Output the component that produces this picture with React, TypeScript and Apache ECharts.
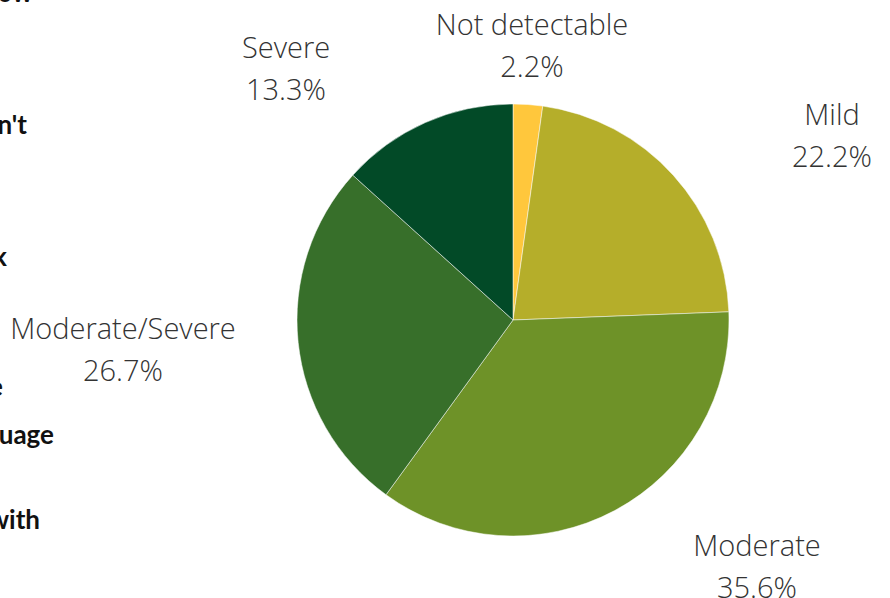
import React, { useEffect, useRef } from "react";
import * as echarts from "echarts";

const categories = ["Not detectable", "Mild", "Moderate", "Moderate/Severe", "Severe"];
const percents = [2.2, 22.2, 35.6, 26.7, 13.3];
const colors = ["#FFC73C", "#B5AE2A", "#6E9228", "#376F2A", "#024A27"];

// label anchor points (label layout only)
const labelPos: [number, number][] = [
  [532, 44],
  [832, 134],
  [757, 565],
  [123, 348],
  [286, 67],
];

// clipped side text fragments from neighbouring panel
const sideTexts = ["ow", "n't", "k", "e", "uage", "with"];
const sidePos: [number, number][] = [
  [33, -8],
  [27, 124],
  [7, 256],
  [3, 386],
  [54, 434],
  [40, 519],
];

export default function App() {
  const ref = useRef<HTMLDivElement>(null);
  useEffect(() => {
    document.body.style.margin = "0";
    const chart = echarts.init(ref.current!, null, { renderer: "svg" });
    chart.setOption({
      animation: false,
      backgroundColor: "#ffffff",
      graphic: sideTexts.map((t, i) => ({
        type: "text",
        x: sidePos[i][0],
        y: sidePos[i][1],
        style: {
          text: t,
          fontFamily: "Lato",
          fontWeight: "bold",
          fontSize: 26,
          fill: "#111111",
          align: "right",
          verticalAlign: "middle",
        },
      })),
      series: [
        {
          type: "pie",
          center: [513, 320],
          radius: 216,
          startAngle: 90,
          clockwise: true,
          data: categories.map((c, i) => ({
            name: c,
            value: percents[i],
            itemStyle: { color: colors[i] },
          })),
          itemStyle: { borderColor: "#ffffff", borderWidth: 0.5 },
          label: {
            show: true,
            position: "outside",
            formatter: (p: any) => `${p.name}\n${p.value.toFixed(1)}%`,
            fontFamily: "Open Sans",
            fontWeight: 300,
            fontSize: 29,
            lineHeight: 42,
            color: "#333333",
            align: "center",
          },
          labelLine: { show: false },
          labelLayout: (params: any) => ({
            x: labelPos[params.dataIndex][0],
            y: labelPos[params.dataIndex][1],
            align: "center",
            verticalAlign: "middle",
          }),
          emphasis: { disabled: true },
        },
      ],
    });
    return () => chart.dispose();
  }, []);
  return <div ref={ref} style={{ width: 890, height: 598 }} />;
}
